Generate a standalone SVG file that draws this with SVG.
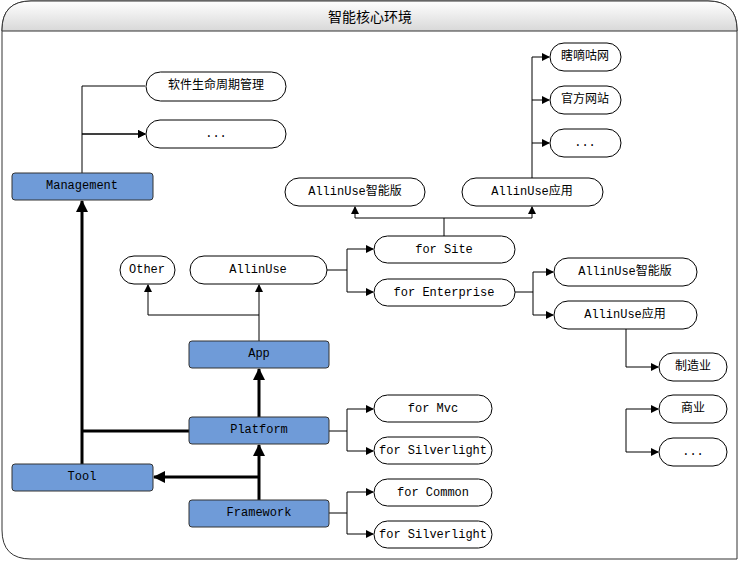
<svg xmlns="http://www.w3.org/2000/svg" width="739" height="561" viewBox="0 0 739 561">
<defs>
<linearGradient id="g" x1="0" y1="0" x2="0" y2="1"><stop offset="0" stop-color="#ffffff"/><stop offset="1" stop-color="#d8d8d8"/></linearGradient>
<marker id="a" markerWidth="8" markerHeight="8" refX="7" refY="4" orient="auto" markerUnits="userSpaceOnUse"><path d="M0,0L8,4L0,8z" fill="#000"/></marker>
<marker id="b" markerWidth="12" markerHeight="12" refX="11" refY="6" orient="auto" markerUnits="userSpaceOnUse"><path d="M0,0L12,6L0,12z" fill="#000"/></marker>
<style>
.f{fill:#6f9bd8;stroke:#333;stroke-width:1}
.p{fill:#fff;stroke:#000;stroke-width:1}
text{font-family:"Liberation Mono","Noto Sans CJK SC",monospace;font-size:12px;text-anchor:middle;dominant-baseline:central;fill:#000}
.t{font-size:14px}
.c path{fill:none;stroke:#000;stroke-width:1}
.c path.k{stroke-width:3}
</style>
</defs>
<path d="M31,1H708Q737,1 737,30V559H31Q2,559 2,530V30Q2,1 31,1z" fill="#fff" stroke="#333"/>
<path d="M31,1H708Q737,1 737,30V31H2V30Q2,1 31,1z" fill="url(#g)" stroke="#333"/>
<text x="370" y="16" class="t" style="font-family:'Noto Sans CJK SC',sans-serif">智能核心环境</text>
<g class="c">
<path d="M82,173V86H145M82,134H145" marker-end="url(#a)"/>
<path d="M82,134H145" marker-end="url(#a)"/>
<path class="k" d="M82,464V201" marker-end="url(#b)"/>
<path class="k" d="M189,431H82"/>
<path class="k" d="M259,417V369" marker-end="url(#b)"/>
<path class="k" d="M259,500V445" marker-end="url(#b)"/>
<path class="k" d="M259,477H154" marker-end="url(#b)"/>
<path d="M259,341V315H148V285" marker-end="url(#a)"/>
<path d="M259,315V285" marker-end="url(#a)"/>
<path d="M327,270H347V249H373" marker-end="url(#a)"/>
<path d="M347,270V292H373" marker-end="url(#a)"/>
<path d="M444,236V218H355V207" marker-end="url(#a)"/>
<path d="M444,218H532V207" marker-end="url(#a)"/>
<path d="M532,178V57H549" marker-end="url(#a)"/>
<path d="M532,100H549" marker-end="url(#a)"/>
<path d="M532,143H549" marker-end="url(#a)"/>
<path d="M515,292H533V272H553" marker-end="url(#a)"/>
<path d="M533,292V315H553" marker-end="url(#a)"/>
<path d="M626,329V367H658" marker-end="url(#a)"/>
<path d="M626,409H658" marker-end="url(#a)"/>
<path d="M626,409V452H658" marker-end="url(#a)"/>
<path d="M329,431H347V409H373" marker-end="url(#a)"/>
<path d="M347,431V451H373" marker-end="url(#a)"/>
<path d="M329,513H347V492H373" marker-end="url(#a)"/>
<path d="M347,513V534H373" marker-end="url(#a)"/>
</g>
<g id="management"><rect class="f" x="12" y="173" width="141" height="27" rx="3"/><text x="82" y="186">Management</text></g>
<g id="tool"><rect class="f" x="12" y="464" width="141" height="27" rx="3"/><text x="82" y="477">Tool</text></g>
<g id="app"><rect class="f" x="189" y="341" width="140" height="27" rx="3"/><text x="259" y="354">App</text></g>
<g id="platform"><rect class="f" x="189" y="417" width="140" height="27" rx="3"/><text x="259" y="430">Platform</text></g>
<g id="framework"><rect class="f" x="189" y="500" width="140" height="27" rx="3"/><text x="259" y="513">Framework</text></g>
<g id="lifecycle"><rect class="p" x="146" y="72" width="140" height="29" rx="14.5"/><text x="216" y="86">软件生命周期管理</text></g>
<g id="mgmt-more"><rect class="p" x="146" y="120" width="140" height="28" rx="14"/><text x="216" y="134">...</text></g>
<g id="other"><rect class="p" x="120" y="256" width="55" height="28" rx="14"/><text x="147" y="270">Other</text></g>
<g id="allinuse"><rect class="p" x="190" y="256" width="137" height="28" rx="14"/><text x="258" y="270">AllinUse</text></g>
<g id="for-site"><rect class="p" x="374" y="236" width="141" height="27" rx="13.5"/><text x="444" y="250">for Site</text></g>
<g id="for-enterprise"><rect class="p" x="374" y="279" width="141" height="27" rx="13.5"/><text x="444" y="293">for Enterprise</text></g>
<g id="site-smart"><rect class="p" x="285" y="178" width="140" height="28" rx="14"/><text x="355" y="192">AllinUse智能版</text></g>
<g id="site-app"><rect class="p" x="462" y="178" width="141" height="28" rx="14"/><text x="532" y="192">AllinUse应用</text></g>
<g id="xdg"><rect class="p" x="550" y="43" width="71" height="28" rx="14"/><text x="585" y="57">瞎嘀咕网</text></g>
<g id="official"><rect class="p" x="550" y="86" width="71" height="28" rx="14"/><text x="585" y="100">官方网站</text></g>
<g id="site-more"><rect class="p" x="550" y="129" width="71" height="28" rx="14"/><text x="585" y="143">...</text></g>
<g id="ent-smart"><rect class="p" x="554" y="258" width="143" height="28" rx="14"/><text x="625" y="272">AllinUse智能版</text></g>
<g id="ent-app"><rect class="p" x="554" y="301" width="143" height="28" rx="14"/><text x="625" y="315">AllinUse应用</text></g>
<g id="manufacturing"><rect class="p" x="659" y="353" width="68" height="28" rx="14"/><text x="693" y="367">制造业</text></g>
<g id="commerce"><rect class="p" x="659" y="395" width="68" height="28" rx="14"/><text x="693" y="409">商业</text></g>
<g id="ent-more"><rect class="p" x="659" y="438" width="68" height="28" rx="14"/><text x="693" y="452">...</text></g>
<g id="for-mvc"><rect class="p" x="374" y="395" width="118" height="27" rx="13.5"/><text x="433" y="409">for Mvc</text></g>
<g id="for-sl1"><rect class="p" x="374" y="437" width="118" height="27" rx="13.5"/><text x="433" y="451">for Silverlight</text></g>
<g id="for-common"><rect class="p" x="374" y="479" width="118" height="27" rx="13.5"/><text x="433" y="493">for Common</text></g>
<g id="for-sl2"><rect class="p" x="374" y="521" width="118" height="27" rx="13.5"/><text x="433" y="535">for Silverlight</text></g>
</svg>
